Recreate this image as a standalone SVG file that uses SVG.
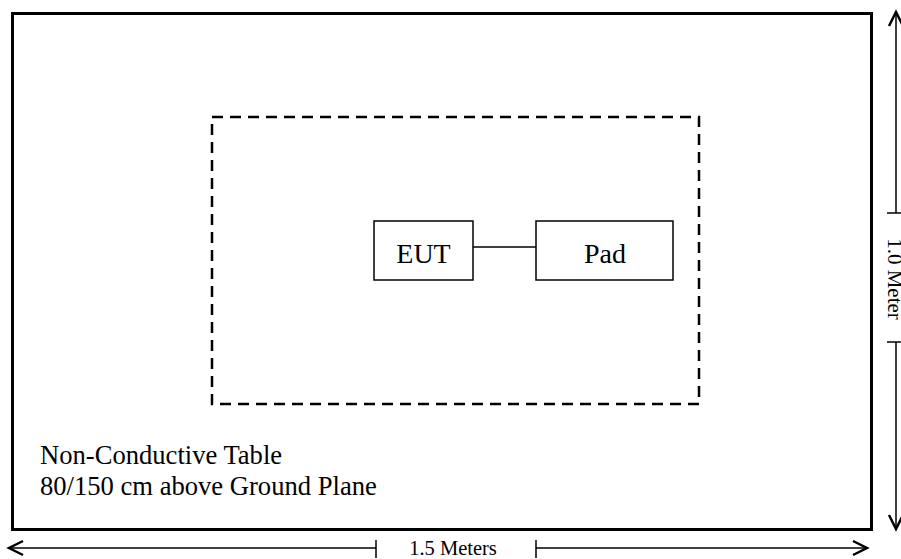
<svg xmlns="http://www.w3.org/2000/svg" width="901" height="559" viewBox="0 0 901 559">
<style>
.t{font-family:"Liberation Serif","Times New Roman",serif;fill:#000}
.box{fill:#fff;stroke:#000;stroke-width:1.5}
.dim{stroke:#000;stroke-width:1.5;fill:none}
.head{stroke:#000;stroke-width:2.5;fill:none}
</style>
<rect width="901" height="559" fill="#fff"/>
<g id="table">
<rect x="12.5" y="13.5" width="859" height="516" fill="none" stroke="#000" stroke-width="3"/>
<text class="t" x="40" y="464" font-size="26.6">Non-Conductive Table</text>
<text class="t" x="40" y="495" font-size="26.6">80/150 cm above Ground Plane</text>
</g>
<g id="area">
<rect x="212" y="117" width="487" height="287" fill="none" stroke="#000" stroke-width="2.5" stroke-dasharray="11 7"/>
</g>
<g id="connectors">
<line x1="473" y1="247" x2="536" y2="247" stroke="#000" stroke-width="1.5"/>
</g>
<g id="eut">
<rect class="box" x="374" y="221" width="99" height="59"/>
<text class="t" x="423.5" y="263" font-size="28" text-anchor="middle">EUT</text>
</g>
<g id="pad">
<rect class="box" x="536" y="221" width="137" height="59"/>
<text class="t" x="605" y="263" font-size="28" text-anchor="middle">Pad</text>
</g>
<g id="dim-width">
<line class="dim" x1="9" y1="548" x2="376" y2="548"/>
<line class="dim" x1="376" y1="540" x2="376" y2="558"/>
<line class="dim" x1="536" y1="548" x2="867" y2="548"/>
<line class="dim" x1="536" y1="540" x2="536" y2="558"/>
<polyline class="head" points="23,541 9,548 23,555"/>
<polyline class="head" points="853,541 867,548 853,555"/>
<text class="t" x="453" y="554.5" font-size="20.5" text-anchor="middle">1.5 Meters</text>
</g>
<g id="dim-height">
<line class="dim" x1="896" y1="12" x2="896" y2="213"/>
<line class="dim" x1="887" y1="213" x2="905" y2="213"/>
<line class="dim" x1="896" y1="342" x2="896" y2="529"/>
<line class="dim" x1="887" y1="342" x2="905" y2="342"/>
<polyline class="head" points="889,26 896,12 903,26"/>
<polyline class="head" points="889,515 896,529 903,515"/>
<text class="t" transform="translate(888,279) rotate(90)" font-size="21" text-anchor="middle">1.0 Meter</text>
</g>
</svg>
